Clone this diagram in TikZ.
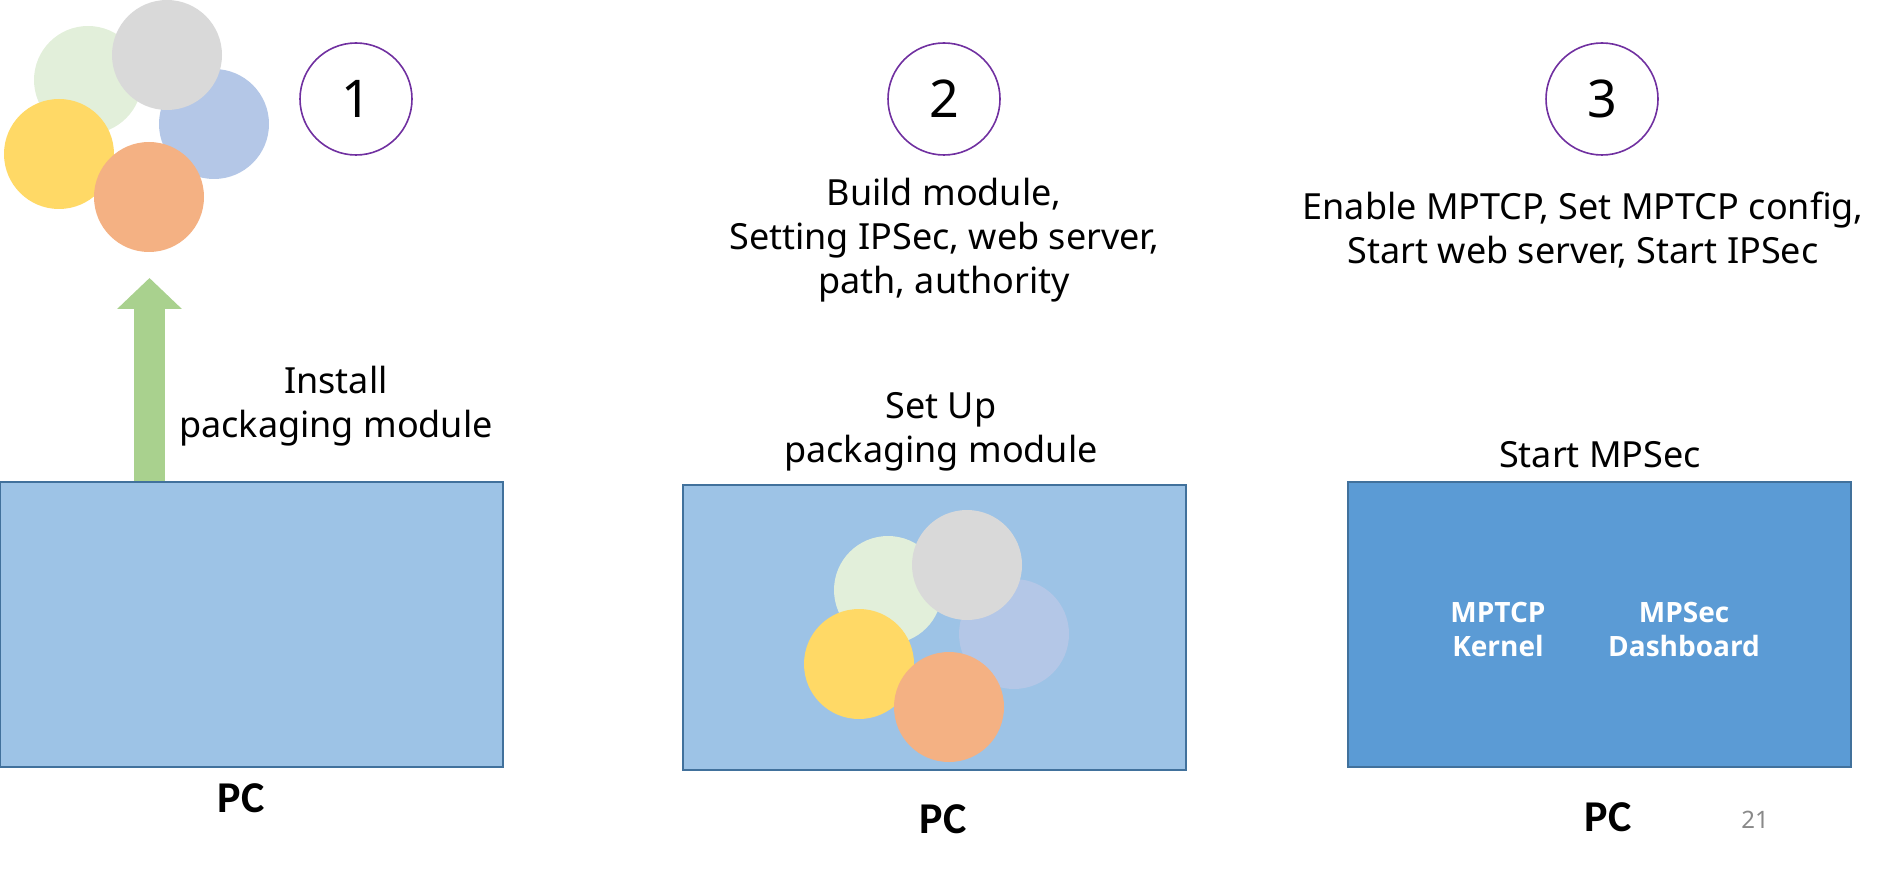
\documentclass[tikz,border=0pt]{standalone}
\usepackage{fontspec}
\setmainfont{Noto Sans}
\newfontfamily\pcfont{Carlito}
\newfontfamily\innerfont{Open Sans}
\usetikzlibrary{arrows.meta}

\definecolor{boxlight}{HTML}{9DC3E6}
\definecolor{boxdark}{HTML}{5B9BD5}
\definecolor{boxline}{HTML}{41719C}
\definecolor{arrowgreen}{HTML}{A9D18E}
\definecolor{stepline}{HTML}{7030A0}
\definecolor{modgreen}{HTML}{E2EFDA}
\definecolor{modgray}{HTML}{D9D9D9}
\definecolor{modblue}{HTML}{B4C7E7}
\definecolor{modyellow}{HTML}{FFD966}
\definecolor{modorange}{HTML}{F4B183}
\definecolor{pagenum}{HTML}{898989}

\tikzset{
	pcbox/.style={draw=boxline, line width=1pt, inner sep=0pt, minimum width=251.5pt, minimum height=142.5pt},
	stepnum/.style={circle, draw=stepline, line width=0.8pt, minimum size=56pt, inner sep=0pt, font=\fontsize{26}{30}\selectfont},
	caption/.style={align=center, anchor=base, font=\fontsize{18}{22}\selectfont},
	pclabel/.style={anchor=base, font=\pcfont\bfseries\fontsize{22}{26}\selectfont},
	inlabel/.style={align=center, anchor=base, text=white, font=\innerfont\bfseries\fontsize{14}{17}\selectfont},
	modules/.pic={
		\fill[modgreen] (0,0) circle (54);
		\fill[modblue] (126,44) circle (55);
		\fill[modgray] (79,-25) circle (55);
		\fill[modyellow] (-29,74) circle (55);
		\fill[modorange] (61,117) circle (55);
	}
}

\begin{document}
\begin{tikzpicture}[x=0.5pt, y=-0.5pt]
	\useasboundingbox (0,0) rectangle (1898,871);

	% step 1
	\pic at (88,80) {modules};
	\node[stepnum] (num1) at (356,99) {1};
	\coordinate (arrtip) at (149.5,278);
	\node[pcbox, fill=boxlight] (pc1) at (251,624.5) {};
	\draw[arrowgreen, line width=15.5pt, -{Triangle[width=31.5pt, length=15.5pt]}] (arrtip |- pc1.north) -- (arrtip);
	\node[caption] (txt1) at (336,437) {Install\\packaging module};
	\node[pclabel] (lab1) at (241,812) {PC};

	% step 2
	\node[stepnum] (num2) at (944,99) {2};
	\node[caption] (txt2) at (944,294) {Build module,\\Setting IPSec, web server,\\path, authority};
	\node[caption] (set2) at (941,462) {Set Up\\packaging module};
	\node[pcbox, fill=boxlight] (pc2) at (934.5,627) {};
	\pic at (888,590) {modules};
	\node[pclabel] (lab2) at (943,833) {PC};

	% step 3
	\node[stepnum] (num3) at (1602,99) {3};
	\node[caption] (txt3) at (1583,264) {Enable MPTCP, Set MPTCP config,\\Start web server, Start IPSec};
	\node[caption] (start3) at (1600,467) {Start MPSec};
	\node[pcbox, fill=boxdark] (pc3) at (1599.5,624.5) {};
	\node[inlabel] (kernel) at (1498,656) {MPTCP\\Kernel};
	\node[inlabel] (dash) at (1684,656) {MPSec\\Dashboard};
	\node[pclabel] (lab3) at (1608,831) {PC};

	\node[anchor=base, text=pagenum, font=\fontsize{12}{14}\selectfont] (page) at (1755,828) {21};
\end{tikzpicture}
\end{document}
